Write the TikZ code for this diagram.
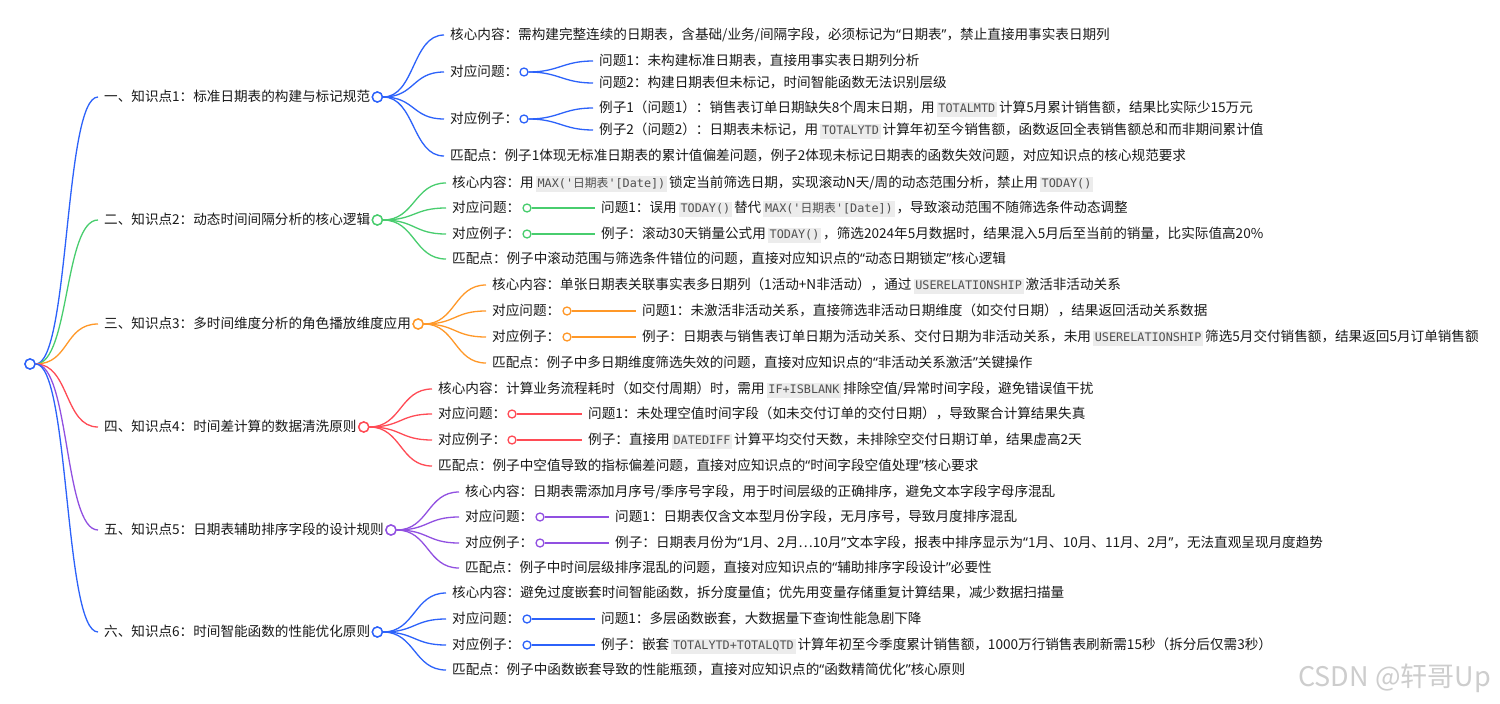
\documentclass[tikz,border=0pt]{standalone}
\usepackage{fontspec}
\setmainfont{Noto Sans CJK SC}
\newfontfamily\codefont{DejaVu Sans Mono}[Ligatures=TeXOff]
\newfontfamily\qfont{Noto Sans}
\definecolor{cb}{RGB}{44,98,250}
\definecolor{cg}{RGB}{72,205,110}
\definecolor{co}{RGB}{255,152,40}
\definecolor{cr}{RGB}{255,75,85}
\definecolor{cp}{RGB}{145,80,225}
\definecolor{txtc}{RGB}{25,25,25}
\definecolor{codebg}{RGB}{236,236,236}
\definecolor{codefg}{RGB}{80,80,80}
\definecolor{wmc}{RGB}{205,205,205}
\newcommand{\cd}[1]{\hspace{2pt}{\setlength{\fboxsep}{1.8pt}\colorbox{codebg}{\codefont\fontsize{11.8}{13}\selectfont\color{codefg}\vphantom{Ag(}#1}}\hspace{2pt}}
\newcommand{\zh}[1]{{\rmfamily #1}}
\newcommand{\oq}{{\qfont “}}
\newcommand{\cq}{{\qfont ”}}
\begin{document}
\begin{tikzpicture}[x=1pt,y=-1pt,
  t/.style={anchor=west,inner xsep=6pt,inner ysep=0pt,text height=12pt,text depth=2.6pt,text=txtc,font=\fontsize{13.6}{16}\selectfont},
  bigdot/.style={circle,draw=#1,fill=white,line width=1.4pt,minimum size=10pt,inner sep=0pt},
  smalldot/.style={circle,draw=#1,fill=white,line width=1.3pt,minimum size=8pt,inner sep=0pt},
  ln/.style={draw=#1,line width=1.3pt},
]
\useasboundingbox[fill=white] (0,0) rectangle (1500,704);

% root
\node[bigdot=cb] (r) at (30,364) {};

% ---------------- Level 1 ----------------
\node[t] (k1) at (98,97) {一、知识点1：标准日期表的构建与标记规范};
\node[t] (k2) at (98,220) {二、知识点2：动态时间间隔分析的核心逻辑};
\node[t] (k3) at (98,324) {三、知识点3：多时间维度分析的角色播放维度应用};
\node[t] (k4) at (98,427) {四、知识点4：时间差计算的数据清洗原则};
\node[t] (k5) at (98,530) {五、知识点5：日期表辅助排序字段的设计规则};
\node[t] (k6) at (98,632) {六、知识点6：时间智能函数的性能优化原则};

\foreach \k/\c in {k1/cb,k2/cg,k3/co,k4/cr,k5/cp,k6/cb}{
  \node[bigdot=\c] (\k c) at ([xshift=1pt]\k.east) {};
}
\foreach \k/\c in {k1/cb,k2/cg,k3/co,k4/cr,k5/cp,k6/cb}{
  \draw[ln=\c] (r.east) .. controls +(34,0) and +(-34,0) .. (\k.west);
}

% ---------------- Branch 1 ----------------
\node[t] (a1) at (444,35) {核心内容：需构建完整连续的日期表，含基础/业务/间隔字段，必须标记为\oq 日期表\cq，禁止直接用事实表日期列};
\node[t] (b1) at (444,72) {对应问题：};
\node[smalldot=cb] (b1c) at (524,72) {};
\node[t] (b1x) at (593,61) {问题1：未构建标准日期表，直接用事实表日期列分析};
\node[t] (b1y) at (593,83) {问题2：构建日期表但未标记，时间智能函数无法识别层级};
\node[t] (c1) at (444,119) {对应例子：};
\node[smalldot=cb] (c1c) at (524,119) {};
\node[t] (c1x) at (593,108) {例子1（问题1）：销售表订单日期缺失8个周末日期，用\cd{TOTALMTD}计算5月累计销售额，结果比实际少15万元};
\node[t] (c1y) at (593,130) {例子2（问题2）：日期表未标记，用\cd{TOTALYTD}计算年初至今销售额，函数返回全表销售额总和而非期间累计值};
\node[t] (d1) at (444,156) {匹配点：例子1体现无标准日期表的累计值偏差问题，例子2体现未标记日期表的函数失效问题，对应知识点的核心规范要求};
\foreach \n in {a1,b1,c1,d1}{
  \draw[ln=cb] (k1c.east) .. controls +(32,0) and +(-32,0) .. (\n.west);
}
\foreach \p/\n in {b1c/b1x,b1c/b1y,c1c/c1x,c1c/c1y}{
  \draw[ln=cb] (\p.east) .. controls +(30,0) and +(-30,0) .. (\n.west);
}

% ---------------- Branch 2 ----------------
\node[t] (a2) at (446,183) {核心内容：用\cd{MAX('\zh{日期表}'[Date])}锁定当前筛选日期，实现滚动N天/周的动态范围分析，禁止用\cd{TODAY()}};
\node[t] (b2) at (446,208) {对应问题：};
\node[smalldot=cg] (b2c) at (527,208) {};
\node[t] (b2x) at (595,208) {问题1：误用\cd{TODAY()}替代\cd{MAX('\zh{日期表}'[Date])}，导致滚动范围不随筛选条件动态调整};
\node[t] (c2) at (446,234) {对应例子：};
\node[smalldot=cg] (c2c) at (527,234) {};
\node[t] (c2x) at (595,234) {例子：滚动30天销量公式用\cd{TODAY()}，筛选2024年5月数据时，结果混入5月后至当前的销量，比实际值高20\%};
\node[t] (d2) at (446,259) {匹配点：例子中滚动范围与筛选条件错位的问题，直接对应知识点的\oq 动态日期锁定\cq 核心逻辑};
\foreach \n in {a2,b2,c2,d2}{
  \draw[ln=cg] (k2c.east) .. controls +(32,0) and +(-32,0) .. (\n.west);
}
\draw[ln=cg] (b2c) -- (b2x);
\draw[ln=cg] (c2c) -- (c2x);

% ---------------- Branch 3 ----------------
\node[t] (a3) at (486,285) {核心内容：单张日期表关联事实表多日期列（1活动+N非活动），通过\cd{USERELATIONSHIP}激活非活动关系};
\node[t] (b3) at (486,311) {对应问题：};
\node[smalldot=co] (b3c) at (567,311) {};
\node[t] (b3x) at (636,311) {问题1：未激活非活动关系，直接筛选非活动日期维度（如交付日期），结果返回活动关系数据};
\node[t] (c3) at (486,337) {对应例子：};
\node[smalldot=co] (c3c) at (567,337) {};
\node[t] (c3x) at (636,337) {例子：日期表与销售表订单日期为活动关系、交付日期为非活动关系，未用\cd{USERELATIONSHIP}筛选5月交付销售额，结果返回5月订单销售额};
\node[t] (d3) at (486,363) {匹配点：例子中多日期维度筛选失效的问题，直接对应知识点的\oq 非活动关系激活\cq 关键操作};
\foreach \n in {a3,b3,c3,d3}{
  \draw[ln=co] (k3c.east) .. controls +(32,0) and +(-32,0) .. (\n.west);
}
\draw[ln=co] (b3c) -- (b3x);
\draw[ln=co] (c3c) -- (c3x);

% ---------------- Branch 4 ----------------
\node[t] (a4) at (432,389) {核心内容：计算业务流程耗时（如交付周期）时，需用\cd{IF+ISBLANK}排除空值/异常时间字段，避免错误值干扰};
\node[t] (b4) at (432,414) {对应问题：};
\node[smalldot=cr] (b4c) at (512,414) {};
\node[t] (b4x) at (582,414) {问题1：未处理空值时间字段（如未交付订单的交付日期），导致聚合计算结果失真};
\node[t] (c4) at (432,440) {对应例子：};
\node[smalldot=cr] (c4c) at (512,440) {};
\node[t] (c4x) at (582,440) {例子：直接用\cd{DATEDIFF}计算平均交付天数，未排除空交付日期订单，结果虚高2天};
\node[t] (d4) at (432,466) {匹配点：例子中空值导致的指标偏差问题，直接对应知识点的\oq 时间字段空值处理\cq 核心要求};
\foreach \n in {a4,b4,c4,d4}{
  \draw[ln=cr] (k4c.east) .. controls +(32,0) and +(-32,0) .. (\n.west);
}
\draw[ln=cr] (b4c) -- (b4x);
\draw[ln=cr] (c4c) -- (c4x);

% ---------------- Branch 5 ----------------
\node[t] (a5) at (459,492) {核心内容：日期表需添加月序号/季序号字段，用于时间层级的正确排序，避免文本字段字母序混乱};
\node[t] (b5) at (459,517) {对应问题：};
\node[smalldot=cp] (b5c) at (540,517) {};
\node[t] (b5x) at (609,517) {问题1：日期表仅含文本型月份字段，无月序号，导致月度排序混乱};
\node[t] (c5) at (459,543) {对应例子：};
\node[smalldot=cp] (c5c) at (540,543) {};
\node[t] (c5x) at (609,543) {例子：日期表月份为\oq 1月、2月…10月\cq 文本字段，报表中排序显示为\oq 1月、10月、11月、2月\cq，无法直观呈现月度趋势};
\node[t] (d5) at (459,568) {匹配点：例子中时间层级排序混乱的问题，直接对应知识点的\oq 辅助排序字段设计\cq 必要性};
\foreach \n in {a5,b5,c5,d5}{
  \draw[ln=cp] (k5c.east) .. controls +(32,0) and +(-32,0) .. (\n.west);
}
\draw[ln=cp] (b5c) -- (b5x);
\draw[ln=cp] (c5c) -- (c5x);

% ---------------- Branch 6 ----------------
\node[t] (a6) at (446,593) {核心内容：避免过度嵌套时间智能函数，拆分度量值；优先用变量存储重复计算结果，减少数据扫描量};
\node[t] (b6) at (446,619) {对应问题：};
\node[smalldot=cb] (b6c) at (527,619) {};
\node[t] (b6x) at (595,619) {问题1：多层函数嵌套，大数据量下查询性能急剧下降};
\node[t] (c6) at (446,645) {对应例子：};
\node[smalldot=cb] (c6c) at (527,645) {};
\node[t] (c6x) at (595,645) {例子：嵌套\cd{TOTALYTD+TOTALQTD}计算年初至今季度累计销售额，1000万行销售表刷新需15秒（拆分后仅需3秒）};
\node[t] (d6) at (446,670) {匹配点：例子中函数嵌套导致的性能瓶颈，直接对应知识点的\oq 函数精简优化\cq 核心原则};
\foreach \n in {a6,b6,c6,d6}{
  \draw[ln=cb] (k6c.east) .. controls +(32,0) and +(-32,0) .. (\n.west);
}
\draw[ln=cb] (b6c) -- (b6x);
\draw[ln=cb] (c6c) -- (c6x);

% redraw dots on top
\foreach \d/\c in {r/cb,k1c/cb,k2c/cg,k3c/co,k4c/cr,k5c/cp,k6c/cb}{
  \node[bigdot=\c] at (\d) {};
}

% watermark
\node[anchor=east,text=wmc,font=\fontsize{27}{30}\selectfont,inner sep=0pt] (wm) at (1491,678) {CSDN @轩哥Up};
\end{tikzpicture}
\end{document}
